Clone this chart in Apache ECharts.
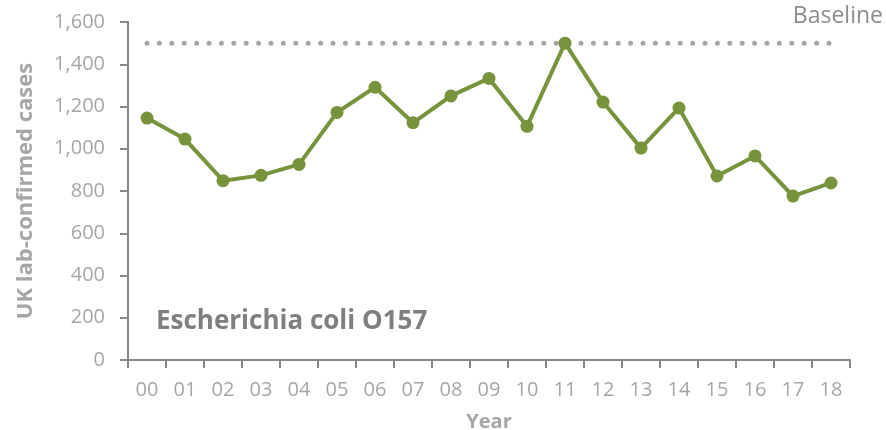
<!DOCTYPE html>
<html><head><meta charset="utf-8">
<script src="https://cdn.jsdelivr.net/npm/echarts@6/dist/echarts.min.js"></script>
<style>html,body{margin:0;padding:0;background:#fff}#c{width:886px;height:430px}</style>
</head><body><div id="c"></div>
<script>
const years = ['00','01','02','03','04','05','06','07','08','09','10','11','12','13','14','15','16','17','18'];
const cases = [1145,1046,849,874,926,1172,1291,1123,1250,1333,1106,1500,1221,1003,1193,871,966,776,838];
const baseline = [1500,1500,1500,1500,1500,1500,1500,1500,1500,1500,1500,1500,1500,1500,1500,1500,1500,1500,1500];
const yTicks = [0,200,400,600,800,1000,1200,1400,1600];

const font = 'Open Sans';
const chart = echarts.init(document.getElementById('c'), null, {renderer:'canvas'});
chart.setOption({
  animation:false,
  backgroundColor:'#fff',
  grid:{left:128,right:36,top:22,bottom:70,outerBoundsMode:'none',containLabel:false},
  xAxis:{
    type:'category', data:years, boundaryGap:true,
    name:'Year', nameLocation:'middle', nameGap:52,
    nameTextStyle:{color:'#a6a6a6',fontFamily:font,fontSize:20,fontWeight:'bold'},
    axisLine:{lineStyle:{color:'#898989',width:2}},
    axisTick:{show:true,length:8,lineStyle:{color:'#898989',width:2}},
    axisLabel:{color:'#a6a6a6',fontFamily:font,fontSize:20,margin:20}
  },
  yAxis:{
    type:'value', min:yTicks[0], max:yTicks[yTicks.length-1], interval:200,
    name:'UK lab-confirmed cases', nameLocation:'middle', nameGap:91,
    nameTextStyle:{color:'#a6a6a6',fontFamily:font,fontSize:22,fontWeight:'bold'},
    axisLine:{show:true,lineStyle:{color:'#898989',width:2}},
    axisTick:{show:true,length:8,lineStyle:{color:'#898989',width:2}},
    splitLine:{show:false},
    axisLabel:{color:'#a6a6a6',fontFamily:font,fontSize:20,margin:23,
      formatter:v=>v.toLocaleString('en-US')}
  },
  graphic:[
    {type:'text',left:156,top:309,style:{text:'Escherichia coli O157',fill:'#7f7f7f',font:'bold 26px "Open Sans"'}},
    {type:'text',right:3,top:5,style:{text:'Baseline',fill:'#8c8c8c',font:'23px "Open Sans"'}}
  ],
  series:[
    {type:'line',data:baseline,symbol:'none',silent:true,
     lineStyle:{color:'#a6a6a6',width:5,type:[0,12.4],cap:'round'}, z:1},
    {type:'line',data:cases,symbol:'circle',symbolSize:13,
     itemStyle:{color:'#77933c'},
     lineStyle:{color:'#77933c',width:4}, z:2}
  ]
});
</script></body></html>
